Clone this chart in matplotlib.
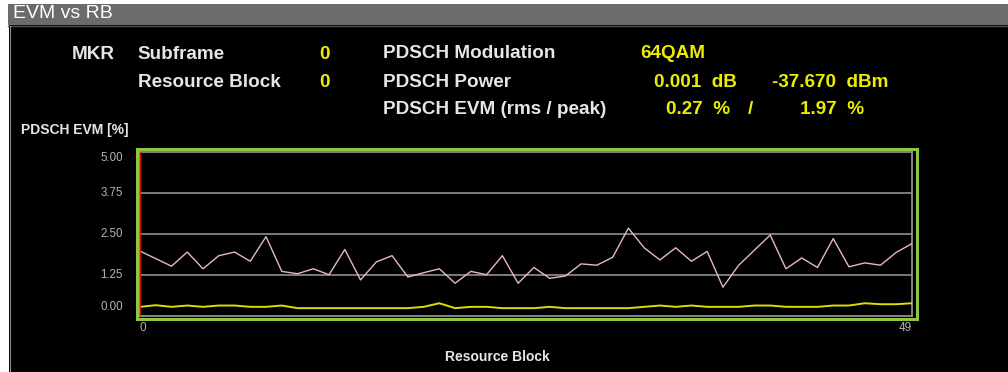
import matplotlib
matplotlib.use("Agg")
import matplotlib.pyplot as plt
from matplotlib.patches import Rectangle
from matplotlib.lines import Line2D
from matplotlib.transforms import offset_copy
import numpy as np

# ---- data -------------------------------------------------------------
resource_blocks = np.arange(50)
evm_peak = [1.97, 1.74, 1.51, 1.94, 1.43, 1.83, 1.94, 1.66, 2.41, 1.35,
            1.28, 1.43, 1.25, 2.02, 1.09, 1.64, 1.83, 1.18, 1.31, 1.43,
            0.99, 1.35, 1.25, 1.83, 0.99, 1.47, 1.14, 1.21, 1.58, 1.54,
            1.78, 2.67, 2.07, 1.70, 2.07, 1.66, 1.96, 0.87, 1.54, 2.00,
            2.46, 1.43, 1.76, 1.47, 2.35, 1.49, 1.61, 1.54, 1.93, 2.20]
evm_rms = [0.27, 0.32, 0.27, 0.31, 0.27, 0.31, 0.31, 0.27, 0.27, 0.31,
           0.23, 0.23, 0.23, 0.23, 0.23, 0.23, 0.23, 0.23, 0.27, 0.38,
           0.23, 0.27, 0.27, 0.23, 0.23, 0.23, 0.27, 0.23, 0.23, 0.23,
           0.23, 0.23, 0.27, 0.31, 0.27, 0.31, 0.27, 0.27, 0.27, 0.31,
           0.31, 0.27, 0.27, 0.27, 0.31, 0.31, 0.38, 0.35, 0.35, 0.38]
y_ticks = [0.0, 1.25, 2.5, 3.75, 5.0]
y_tick_labels = ["0.00", "1.25", "2.50", "3.75", "5.00"]
x_tick_labels = ["0", "49"]
marker_rb = 0

summary_left = [("Subframe", "0"), ("Resource Block", "0")]
summary_right_labels = ["PDSCH Modulation", "PDSCH Power", "PDSCH EVM (rms / peak)"]
modulation = "64QAM"
power_rel, power_abs = "0.001  dB", "-37.670  dBm"
evm_rms_total, evm_peak_total = "0.27  %", "1.97  %"

# ---- styling ----------------------------------------------------------
W, H = 1008, 372
FONT = "Liberation Sans"
WHITE = "#e6e6e6"
YELLOW = "#ecec00"
GRID = "#9c9c9c"
GREEN = "#8dc63f"

fig = plt.figure(figsize=(W / 100, H / 100), dpi=100, facecolor="white")


def fx(px):
    return px / W


def fy(py):
    return 1 - py / H


# panel background, title bar and left border
fig.patches.append(Rectangle((fx(9), 0), 1 - fx(9), fy(25), transform=fig.transFigure,
                             facecolor="black", edgecolor="none", zorder=-2))
fig.patches.append(Rectangle((fx(8), fy(25)), 1 - fx(8), fy(4) - fy(25),
                             transform=fig.transFigure, facecolor="#6b6b6b",
                             edgecolor="none", zorder=-2))
fig.lines.append(Line2D([fx(8), 1], [fy(25.5), fy(25.5)], transform=fig.transFigure,
                        color="#4e4e4e", lw=1, zorder=-1))
fig.lines.append(Line2D([fx(9.5), fx(9.5)], [0, fy(26)], transform=fig.transFigure,
                        color="#8a8a8a", lw=0.8, zorder=-1))
fig.text(fx(13), fy(14), "EVM vs RB", color="white", fontsize=14,
         family=FONT, va="center", ha="left")

# measurement summary
txt = dict(family=FONT, fontsize=13.6, fontweight="bold", va="baseline")
fig.text(fx(115), fy(59), "MKR", color=WHITE, ha="right", **txt)
for (label, value), base in zip(summary_left, [59, 87]):
    fig.text(fx(137.5), fy(base), label, color=WHITE, ha="left", **txt)
    fig.text(fx(325), fy(base), value, color=YELLOW, ha="center", **txt)
for label, base in zip(summary_right_labels, [58.5, 87, 114]):
    fig.text(fx(383), fy(base), label, color=WHITE, ha="left", **txt)
fig.text(fx(640), fy(58.5), modulation, color=YELLOW, ha="left", **txt)
fig.text(fx(737), fy(87), power_rel, color=YELLOW, ha="right", **txt)
fig.text(fx(888), fy(87), power_abs, color=YELLOW, ha="right", **txt)
fig.text(fx(730), fy(114), evm_rms_total, color=YELLOW, ha="right", **txt)
fig.text(fx(750), fy(114), "/", color=YELLOW, ha="center", **txt)
fig.text(fx(864), fy(114), evm_peak_total, color=YELLOW, ha="right", **txt)

fig.text(fx(21), fy(130), "PDSCH EVM [%]", color=WHITE, fontsize=10,
         fontweight="bold", family=FONT, va="center", ha="left")
fig.text(fx(497), fy(357), "Resource Block", color=WHITE, fontsize=10,
         fontweight="bold", family=FONT, va="center", ha="center")

# ---- plot area ----------------------------------------------------------
ax = fig.add_axes([fx(140), fy(315.7), fx(912) - fx(140), fy(151.7) - fy(315.7)])
ax.set_zorder(2)
ax.set_facecolor("black")
ax.set_xlim(0, 49)
ax.set_ylim(0, 5)
ax.set_xticks([])
ax.set_yticks([])
for sp in ax.spines.values():
    sp.set_color(GRID)
    sp.set_linewidth(1.2)
for yv in y_ticks[1:-1]:
    ax.axhline(yv, color=GRID, lw=1.1, zorder=1)

ax.plot(resource_blocks, evm_peak, color="#e8b8bc", lw=1.0, zorder=3)
ax.plot(resource_blocks, evm_rms, color="#dede00", lw=1.4, zorder=3)
ax.axvline(marker_rb, color="#e00000", lw=1.3, zorder=4)

# y tick labels; the outer ones are pulled inside the frame
shifts = {0.0: 8.7, 5.0: -6.3}
for yv, lab in zip(y_ticks, y_tick_labels):
    tr = offset_copy(ax.transData, fig=fig, x=0, y=shifts.get(yv, 0), units="dots")
    ax.text(-1.1, yv, lab, transform=tr, color="#b4b4b4", fontsize=8.3,
            family=FONT, ha="right", va="center", clip_on=False)
# x tick labels
ax.text(0, -0.38, x_tick_labels[0], color="#b4b4b4", fontsize=8.5, family=FONT,
        ha="left", va="center", clip_on=False)
ax.text(49, -0.38, x_tick_labels[1], color="#b4b4b4", fontsize=8.5, family=FONT,
        ha="right", va="center", clip_on=False)

# green frame around the plot area
fig.patches.append(Rectangle((fx(136.5), fy(319)), fx(916.5) - fx(136.5),
                             fy(148.5) - fy(319), transform=fig.transFigure,
                             facecolor="none", edgecolor=GREEN, lw=2.2, zorder=5))

fig.savefig("out.png", dpi=100, facecolor=fig.get_facecolor())
